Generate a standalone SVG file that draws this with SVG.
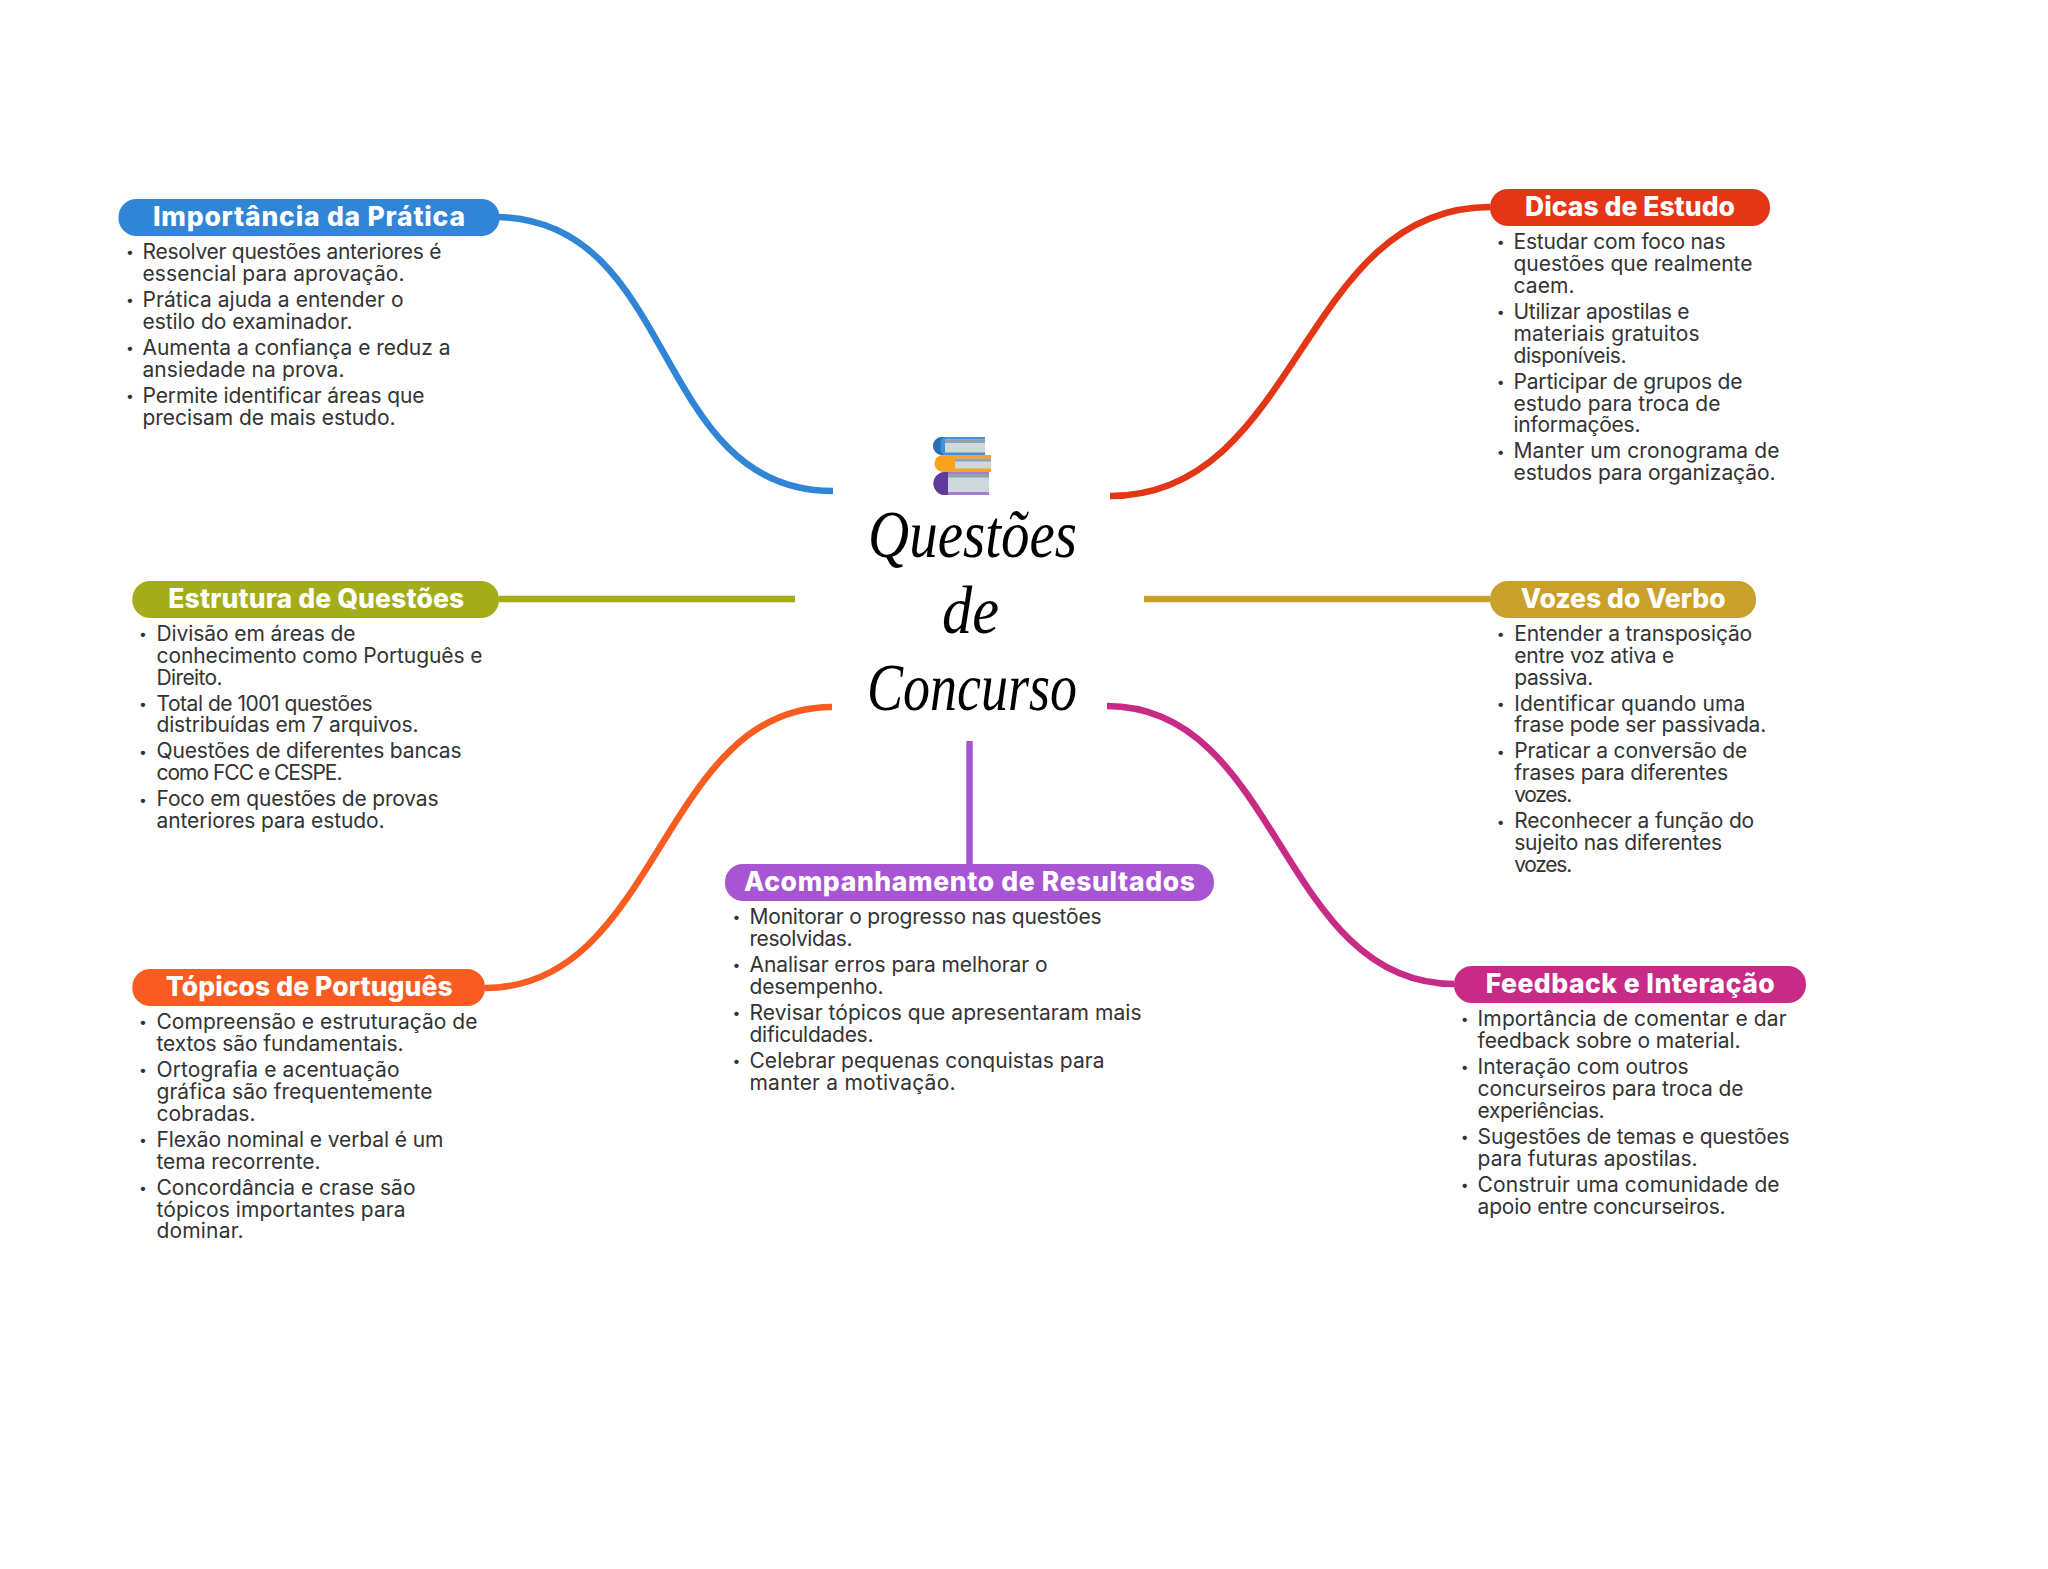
<svg xmlns="http://www.w3.org/2000/svg" width="2048" height="1569" viewBox="0 0 2048 1569">
<style>
.t{font-family:"Inter","Liberation Sans",sans-serif;font-size:26.500px;font-weight:800;fill:#fff}
.l{font-family:"Inter","Liberation Sans",sans-serif;font-size:21px;font-weight:400;fill:#333}
.b{font-family:"Inter","Liberation Sans",sans-serif;font-size:14px;fill:#333}
.h{font-family:"Liberation Serif",serif;font-style:italic;font-size:68px;fill:#000}
.c{fill:none;stroke-width:6.500}
</style>
<defs><filter id="soft" x="-10%" y="-10%" width="120%" height="120%"><feGaussianBlur stdDeviation="0.7"/></filter></defs>
<rect width="2048" height="1569" fill="#fff"/>
<g id="connectors">
<path class="c" stroke="#3085D6" d="M497 217C680 220 650 491 833 491"/>
<path class="c" stroke="#E33616" d="M1110 496C1300 496 1300 207 1490 207"/>
<path class="c" stroke="#A2AD19" d="M499 599H795"/>
<path class="c" stroke="#C9A02C" d="M1144 599H1490"/>
<path class="c" stroke="#F85C20" d="M485 988C660 988 660 707 832 707"/>
<path class="c" stroke="#C82B85" d="M1107 706C1280 706 1280 984 1454 984"/>
<path class="c" stroke="#A855D4" stroke-width="7" d="M969.500 741V864"/>
</g>
<g id="center">
<g filter="url(#soft)">
<path d="M985 437H942a9 9 0 0 0 0 18H985Z" fill="#3A92DE"/>
<path d="M942 437a9 9 0 0 0 0 18h2a7 7 0 0 1-3-9a7 7 0 0 1 3-9Z" fill="#2A6FB0"/>
<rect x="945" y="439.500" width="40" height="13" fill="#CFD8DC"/><rect x="945" y="439.500" width="40" height="3.500" fill="#90A4AE"/>
<path d="M991 455H943a8.500 8.500 0 0 0 0 17H991Z" fill="#F9A21E"/>
<rect x="955" y="458.500" width="36" height="10" fill="#CFD8DC"/><rect x="955" y="458.500" width="36" height="3" fill="#90A4AE"/>
<path d="M989 472H945a11.500 11.500 0 0 0 0 23H989Z" fill="#A47BD8"/>
<path d="M945 472a11.500 11.500 0 0 0 0 23h3V472Z" fill="#5E3A9C"/>
<rect x="948" y="474" width="41" height="18" fill="#CFD8DC"/><rect x="948" y="474" width="41" height="3.500" fill="#90A4AE"/>
</g>
<text class="h" x="868" y="557" textLength="209" lengthAdjust="spacingAndGlyphs">Questões</text>
<text class="h" x="942" y="633" textLength="57" lengthAdjust="spacingAndGlyphs">de</text>
<text class="h" x="867" y="710" textLength="210" lengthAdjust="spacingAndGlyphs">Concurso</text>
</g>
<g id="importancia">
<rect x="118.500" y="199" width="381" height="37" rx="18" fill="#3085D6"/>
<text class="t" x="153" y="225.700" textLength="312">Importância da Prática</text>
<text class="b" x="126" y="257">•</text>
<text class="l" x="142.500" y="259" textLength="299">Resolver questões anteriores é</text>
<text class="l" x="142.500" y="280.900" textLength="262">essencial para aprovação.</text>
<text class="b" x="126" y="305">•</text>
<text class="l" x="142.500" y="306.900" textLength="261">Prática ajuda a entender o</text>
<text class="l" x="142.500" y="328.800" textLength="210">estilo do examinador.</text>
<text class="b" x="126" y="353">•</text>
<text class="l" x="142.500" y="354.800" textLength="308">Aumenta a confiança e reduz a</text>
<text class="l" x="142.500" y="376.700" textLength="202">ansiedade na prova.</text>
<text class="b" x="126" y="401">•</text>
<text class="l" x="142.500" y="402.700" textLength="282">Permite identificar áreas que</text>
<text class="l" x="142.500" y="424.600" textLength="253">precisam de mais estudo.</text>
</g>
<g id="dicas">
<rect x="1490" y="189" width="280" height="37" rx="18" fill="#E33616"/>
<text class="t" x="1525" y="215.700" textLength="210">Dicas de Estudo</text>
<text class="b" x="1496.700" y="247">•</text>
<text class="l" x="1513.500" y="249" textLength="212">Estudar com foco nas</text>
<text class="l" x="1513.500" y="270.900" textLength="239">questões que realmente</text>
<text class="l" x="1513.500" y="292.800" textLength="61">caem.</text>
<text class="b" x="1496.700" y="317">•</text>
<text class="l" x="1513.500" y="318.800" textLength="176">Utilizar apostilas e</text>
<text class="l" x="1513.500" y="340.700" textLength="186">materiais gratuitos</text>
<text class="l" x="1513.500" y="362.600" textLength="113">disponíveis.</text>
<text class="b" x="1496.700" y="387">•</text>
<text class="l" x="1513.500" y="388.600" textLength="229">Participar de grupos de</text>
<text class="l" x="1513.500" y="410.500" textLength="207">estudo para troca de</text>
<text class="l" x="1513.500" y="432.400" textLength="127">informações.</text>
<text class="b" x="1496.700" y="456.500">•</text>
<text class="l" x="1513.500" y="458.400" textLength="266">Manter um cronograma de</text>
<text class="l" x="1513.500" y="480.300" textLength="262">estudos para organização.</text>
</g>
<g id="estrutura">
<rect x="132.300" y="581" width="366.700" height="37" rx="18" fill="#A2AD19"/>
<text class="t" x="168.300" y="607.700" textLength="296">Estrutura de Questões</text>
<text class="b" x="139" y="639">•</text>
<text class="l" x="156.500" y="640.700" textLength="199">Divisão em áreas de</text>
<text class="l" x="156.500" y="662.600" textLength="326">conhecimento como Português e</text>
<text class="l" x="156.500" y="684.500" textLength="66">Direito.</text>
<text class="b" x="139" y="708.500">•</text>
<text class="l" x="156.500" y="710.500" textLength="216">Total de 1001 questões</text>
<text class="l" x="156.500" y="732.400" textLength="262">distribuídas em 7 arquivos.</text>
<text class="b" x="139" y="756.500">•</text>
<text class="l" x="156.500" y="758.400" textLength="305">Questões de diferentes bancas</text>
<text class="l" x="156.500" y="780.300" textLength="186">como FCC e CESPE.</text>
<text class="b" x="139" y="804.500">•</text>
<text class="l" x="156.500" y="806.300" textLength="282">Foco em questões de provas</text>
<text class="l" x="156.500" y="828.200" textLength="228">anteriores para estudo.</text>
</g>
<g id="vozes">
<rect x="1490" y="581" width="266" height="37" rx="18" fill="#C9A02C"/>
<text class="t" x="1520.700" y="607.700" textLength="205">Vozes do Verbo</text>
<text class="b" x="1496.700" y="639">•</text>
<text class="l" x="1514.200" y="640.700" textLength="238">Entender a transposição</text>
<text class="l" x="1514.200" y="662.600" textLength="160">entre voz ativa e</text>
<text class="l" x="1514.200" y="684.500" textLength="79">passiva.</text>
<text class="b" x="1496.700" y="708.500">•</text>
<text class="l" x="1514.200" y="710.500" textLength="231">Identificar quando uma</text>
<text class="l" x="1514.200" y="732.400" textLength="252">frase pode ser passivada.</text>
<text class="b" x="1496.700" y="756.500">•</text>
<text class="l" x="1514.200" y="758.400" textLength="233">Praticar a conversão de</text>
<text class="l" x="1514.200" y="780.300" textLength="214">frases para diferentes</text>
<text class="l" x="1514.200" y="802.200" textLength="58">vozes.</text>
<text class="b" x="1496.700" y="826.500">•</text>
<text class="l" x="1514.200" y="828.200" textLength="240">Reconhecer a função do</text>
<text class="l" x="1514.200" y="850.100" textLength="208">sujeito nas diferentes</text>
<text class="l" x="1514.200" y="872" textLength="58">vozes.</text>
</g>
<g id="topicos">
<rect x="132.300" y="969" width="352.700" height="37" rx="18" fill="#F85C20"/>
<text class="t" x="165.700" y="995.700" textLength="287">Tópicos de Português</text>
<text class="b" x="139" y="1027">•</text>
<text class="l" x="156.500" y="1029" textLength="321">Compreensão e estruturação de</text>
<text class="l" x="156.500" y="1050.900" textLength="247">textos são fundamentais.</text>
<text class="b" x="139" y="1075">•</text>
<text class="l" x="156.500" y="1076.900" textLength="243">Ortografia e acentuação</text>
<text class="l" x="156.500" y="1098.800" textLength="276">gráfica são frequentemente</text>
<text class="l" x="156.500" y="1120.700" textLength="99">cobradas.</text>
<text class="b" x="139" y="1145">•</text>
<text class="l" x="156.500" y="1146.700" textLength="287">Flexão nominal e verbal é um</text>
<text class="l" x="156.500" y="1168.600" textLength="164">tema recorrente.</text>
<text class="b" x="139" y="1193">•</text>
<text class="l" x="156.500" y="1194.600" textLength="259">Concordância e crase são</text>
<text class="l" x="156.500" y="1216.500" textLength="249">tópicos importantes para</text>
<text class="l" x="156.500" y="1238.400" textLength="87">dominar.</text>
</g>
<g id="acompanhamento">
<rect x="725" y="864" width="489" height="37" rx="18" fill="#A855D4"/>
<text class="t" x="744" y="890.700" textLength="451">Acompanhamento de Resultados</text>
<text class="b" x="732.600" y="922">•</text>
<text class="l" x="749.500" y="924" textLength="352">Monitorar o progresso nas questões</text>
<text class="l" x="749.500" y="945.900" textLength="103">resolvidas.</text>
<text class="b" x="732.600" y="970">•</text>
<text class="l" x="749.500" y="971.900" textLength="298">Analisar erros para melhorar o</text>
<text class="l" x="749.500" y="993.800" textLength="134">desempenho.</text>
<text class="b" x="732.600" y="1018">•</text>
<text class="l" x="749.500" y="1019.800" textLength="392">Revisar tópicos que apresentaram mais</text>
<text class="l" x="749.500" y="1041.700" textLength="124">dificuldades.</text>
<text class="b" x="732.600" y="1066">•</text>
<text class="l" x="749.500" y="1067.700" textLength="355">Celebrar pequenas conquistas para</text>
<text class="l" x="749.500" y="1089.600" textLength="206">manter a motivação.</text>
</g>
<g id="feedback">
<rect x="1454" y="966" width="352" height="37" rx="18" fill="#C82B85"/>
<text class="t" x="1485.700" y="992.700" textLength="289">Feedback e Interação</text>
<text class="b" x="1460.700" y="1024">•</text>
<text class="l" x="1477.600" y="1026" textLength="309">Importância de comentar e dar</text>
<text class="l" x="1477.600" y="1047.900" textLength="263">feedback sobre o material.</text>
<text class="b" x="1460.700" y="1072">•</text>
<text class="l" x="1477.600" y="1073.900" textLength="211">Interação com outros</text>
<text class="l" x="1477.600" y="1095.800" textLength="266">concurseiros para troca de</text>
<text class="l" x="1477.600" y="1117.700" textLength="127">experiências.</text>
<text class="b" x="1460.700" y="1142">•</text>
<text class="l" x="1477.600" y="1143.700" textLength="312">Sugestões de temas e questões</text>
<text class="l" x="1477.600" y="1165.600" textLength="220">para futuras apostilas.</text>
<text class="b" x="1460.700" y="1190">•</text>
<text class="l" x="1477.600" y="1191.600" textLength="302">Construir uma comunidade de</text>
<text class="l" x="1477.600" y="1213.500" textLength="248">apoio entre concurseiros.</text>
</g>
</svg>
